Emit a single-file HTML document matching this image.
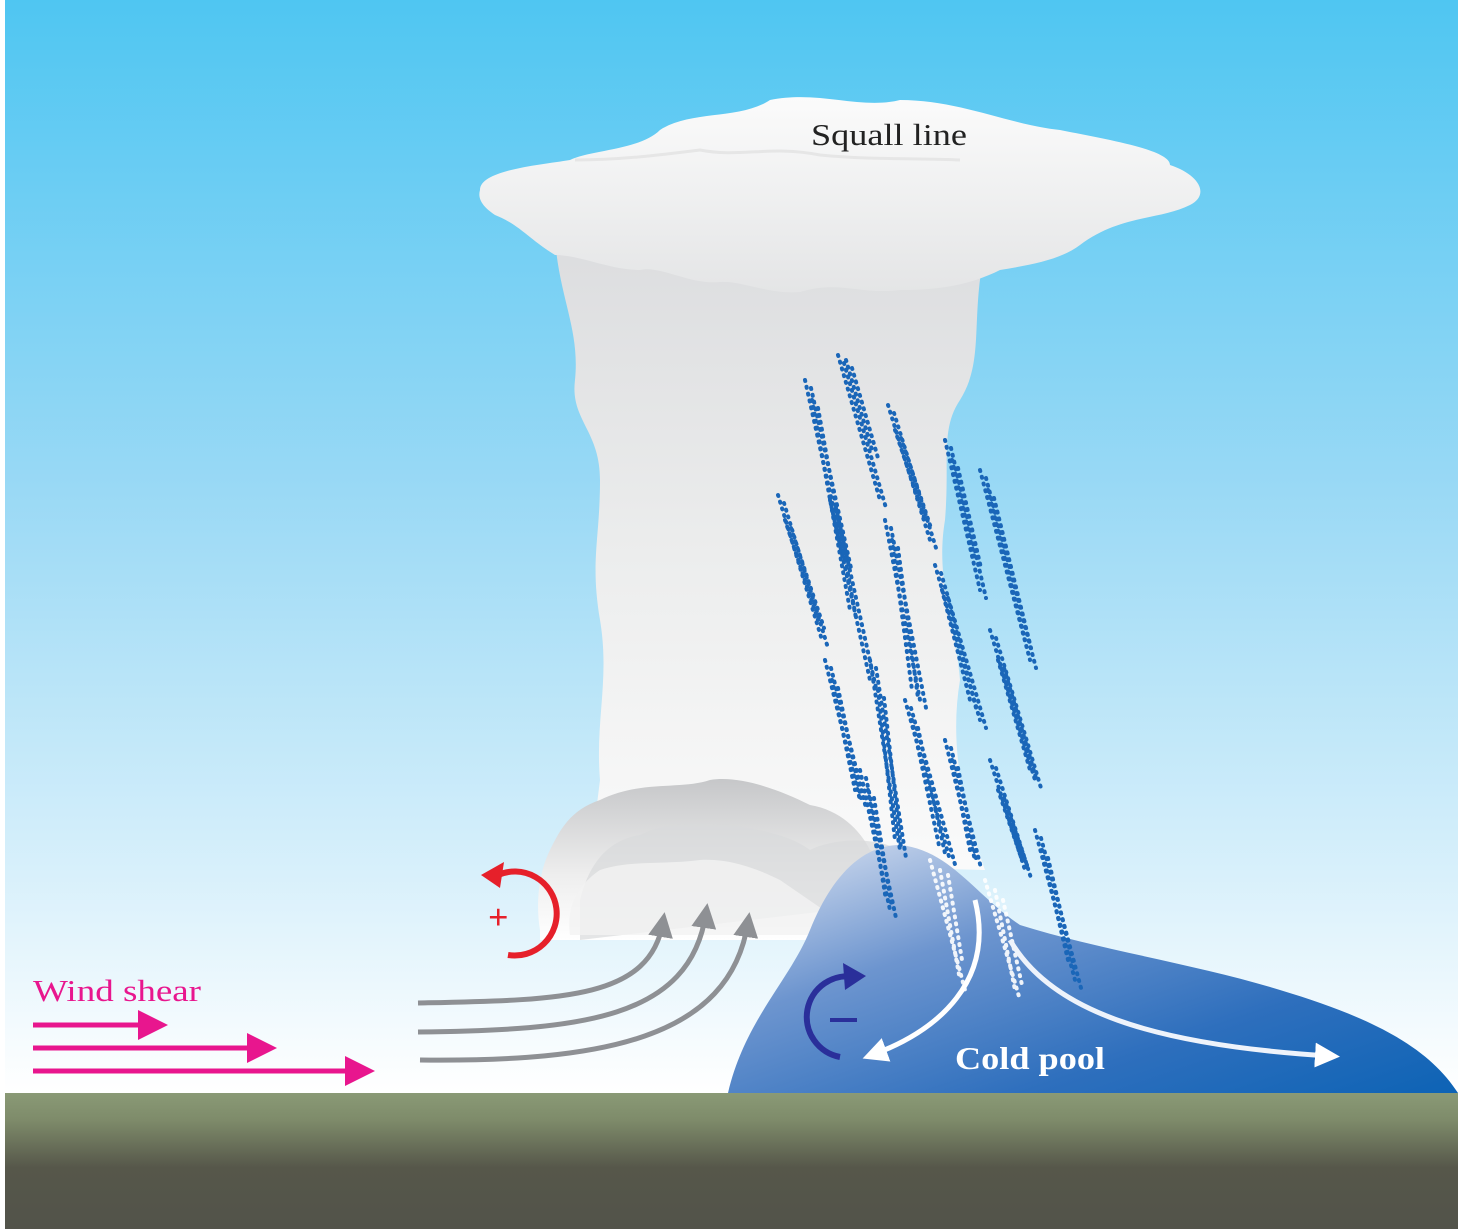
<!DOCTYPE html>
<html><head><meta charset="utf-8"><style>
html,body{margin:0;padding:0;background:#fff}
svg{display:block}
text{font-family:"Liberation Serif",serif}
</style></head><body>
<svg width="1458" height="1229" viewBox="0 0 1458 1229" xmlns="http://www.w3.org/2000/svg">
<defs>
<linearGradient id="sky" x1="0" y1="0" x2="0" y2="1">
<stop offset="0" stop-color="#4fc6f2"/><stop offset="0.45" stop-color="#9ad9f5"/><stop offset="0.8" stop-color="#d8f0fb"/><stop offset="1" stop-color="#ffffff"/></linearGradient>
<linearGradient id="gnd" x1="0" y1="0" x2="0" y2="1">
<stop offset="0" stop-color="#8a9a76"/><stop offset="0.2" stop-color="#7e8b6a"/><stop offset="0.55" stop-color="#56574a"/><stop offset="1" stop-color="#52534a"/></linearGradient>
<linearGradient id="col" x1="0" y1="0" x2="0" y2="1">
<stop offset="0" stop-color="#dcdddf"/><stop offset="0.5" stop-color="#eceded"/><stop offset="1" stop-color="#fafafa"/></linearGradient>
<linearGradient id="anv" x1="0" y1="0" x2="0" y2="1">
<stop offset="0" stop-color="#fbfbfb"/><stop offset="1" stop-color="#e4e5e6"/></linearGradient>
<linearGradient id="base" x1="0" y1="0" x2="0" y2="1">
<stop offset="0" stop-color="#c6c7c9"/><stop offset="0.6" stop-color="#eeeeee"/><stop offset="1" stop-color="#ffffff"/></linearGradient>
<linearGradient id="pool" x1="0" y1="0" x2="1" y2="1">
<stop offset="0" stop-color="#dfe6f3"/><stop offset="0.35" stop-color="#6d95cf"/><stop offset="0.7" stop-color="#2e6fbd"/><stop offset="1" stop-color="#0d63b5"/></linearGradient>
<marker id="pk" markerWidth="8" markerHeight="8" refX="5" refY="4" orient="auto" markerUnits="strokeWidth"><path d="M0,1 L6,4 L0,7z" fill="#e8168e"/></marker>
<marker id="gy" markerWidth="6" markerHeight="6" refX="3" refY="3" orient="auto" markerUnits="strokeWidth"><path d="M0,0.5 L5,3 L0,5.5z" fill="#8e9094"/></marker>
<marker id="wh" markerWidth="6" markerHeight="6" refX="3" refY="3" orient="auto" markerUnits="strokeWidth"><path d="M0,0.5 L5,3 L0,5.5z" fill="#fff"/></marker>
</defs>
<rect x="0" y="0" width="1458" height="1229" fill="#fff"/>
<rect x="5" y="0" width="1453" height="1093" fill="url(#sky)"/>
<rect x="5" y="1093" width="1453" height="136" fill="url(#gnd)"/>
<path d="M555,240 C560,300 580,330 575,380 C570,420 600,430 600,480 C600,540 590,560 600,620 C610,680 595,720 600,780 L590,860 L985,870 C960,800 950,740 960,680 C955,620 935,580 945,520 C950,460 940,430 960,400 C985,360 970,320 985,250 Z" fill="url(#col)"/>
<path d="M480,190 C480,170 540,165 570,160 C590,150 640,150 660,130 C690,110 740,120 770,100 C820,90 860,110 900,100 C960,100 1010,125 1060,130 C1110,140 1170,150 1170,165 C1200,175 1210,195 1190,205 C1160,220 1120,215 1080,245 C1060,260 1030,265 1000,270 C970,285 940,290 900,290 C860,295 840,280 800,292 C770,295 740,280 720,282 C690,285 660,265 640,270 C610,270 580,255 555,255 C530,240 520,225 495,215 C480,205 478,197 480,190 Z" fill="url(#anv)"/>
<path d="M575,160 C620,160 660,155 700,150 C740,158 770,145 820,155 C870,160 920,158 960,160" fill="none" stroke="#e6e6e6" stroke-width="3"/>
<path d="M540,930 C535,900 540,870 550,850 C560,830 570,810 600,800 C640,780 680,790 710,780 C740,775 780,790 810,805 C840,810 860,830 870,850 L980,900 L980,940 L540,940 Z" fill="url(#base)"/>
<path d="M580,900 C590,860 610,840 640,835 C670,820 700,825 730,825 C760,830 790,835 810,850 C830,840 870,835 900,850 L920,900 L580,940 Z" fill="#d9dadb" opacity="0.7"/>
<path d="M570,935 C565,900 585,880 600,870 C630,860 660,865 700,860 C730,858 760,870 780,880 L860,935 Z" fill="#f3f3f3" opacity="0.8"/>
<path d="M728,1093 C745,1020 790,980 810,930 C830,880 860,845 900,845 C950,850 975,895 1020,925 C1100,950 1200,965 1280,990 C1380,1020 1430,1050 1458,1093 Z" fill="url(#pool)"/>
<g stroke="#1a66b8" stroke-linecap="round" fill="none" stroke-dasharray="1 6" stroke-width="4" id="rain">
<path d="M838,355 L880,500"/><path d="M846,360 L872,450"/><path d="M805,380 L845,560"/><path d="M812,400 L850,610"/>
<path d="M888,405 L930,540"/><path d="M895,430 L925,520"/><path d="M778,495 L822,640"/><path d="M785,520 L818,620"/>
<path d="M830,500 L870,680"/><path d="M945,440 L980,590"/><path d="M952,460 L975,560"/><path d="M980,470 L1030,660"/><path d="M988,490 L1025,640"/>
<path d="M885,520 L920,700"/><path d="M892,540 L912,690"/><path d="M935,565 L980,720"/><path d="M942,590 L970,700"/>
<path d="M825,660 L860,800"/><path d="M832,680 L855,790"/><path d="M870,660 L900,850"/><path d="M878,690 L895,840"/>
<path d="M905,700 L950,860"/><path d="M912,720 L940,850"/><path d="M990,630 L1035,780"/><path d="M998,660 L1030,770"/>
<path d="M945,740 L975,860"/><path d="M952,760 L970,850"/><path d="M990,760 L1025,870"/><path d="M998,790 L1022,860"/>
<path d="M1035,830 L1075,980"/><path d="M1042,850 L1068,960"/><path d="M860,770 L890,910"/><path d="M868,790 L886,900"/>
</g>
<use href="#rain" x="6" y="8"/>
<g stroke="#ffffff" stroke-linecap="round" fill="none" stroke-dasharray="1 6" stroke-width="4" opacity="0.9">
<path d="M930,860 L965,990"/><path d="M940,870 L960,980"/><path d="M985,880 L1020,1000"/><path d="M995,890 L1015,990"/><path d="M948,875 L962,960"/><path d="M1003,900 L1022,985"/>
</g>
<path d="M975,900 C995,980 940,1030 872,1055" fill="none" stroke="#fff" stroke-width="5" marker-end="url(#wh)"/>
<path d="M1010,940 C1050,1010 1150,1045 1330,1056" fill="none" stroke="#eef3fb" stroke-width="5" marker-end="url(#wh)"/>
<g fill="none" stroke="#8e9094" stroke-width="5" marker-end="url(#gy)">
<path d="M418,1003 C560,1000 650,1000 663,922"/>
<path d="M418,1032 C580,1030 690,1020 706,913"/>
<path d="M420,1060 C600,1062 730,1040 748,922"/>
</g>
<g stroke="#e8168e" stroke-width="5" marker-end="url(#pk)">
<line x1="33" y1="1025" x2="163" y2="1025"/>
<line x1="33" y1="1048" x2="272" y2="1048"/>
<line x1="33" y1="1071" x2="370" y2="1071"/>
</g>
<path d="M498,875 A42,42 0 1 1 508,955" fill="none" stroke="#e6202a" stroke-width="6"/>
<path d="M481,875 L504,862 L500,888 Z" fill="#e6202a"/>
<text x="488" y="929" font-size="36" font-weight="bold" fill="#e6202a" font-family="Liberation Sans,sans-serif">+</text>
<path d="M855,977 A38,38 0 1 0 840,1057" fill="none" stroke="#2a2f9a" stroke-width="6"/>
<path d="M866,976 L843,963 L845,990 Z" fill="#2a2f9a"/>
<rect x="830" y="1018" width="27" height="4" fill="#2a2f9a"/>
<text x="811" y="145" font-size="31" fill="#222" textLength="156" lengthAdjust="spacingAndGlyphs">Squall line</text>
<text x="33" y="1001" font-size="31" fill="#e8168e" textLength="168" lengthAdjust="spacingAndGlyphs">Wind shear</text>
<text x="955" y="1069" font-size="32" font-weight="bold" fill="#fff" textLength="150" lengthAdjust="spacingAndGlyphs">Cold pool</text>
</svg>
</body></html>
